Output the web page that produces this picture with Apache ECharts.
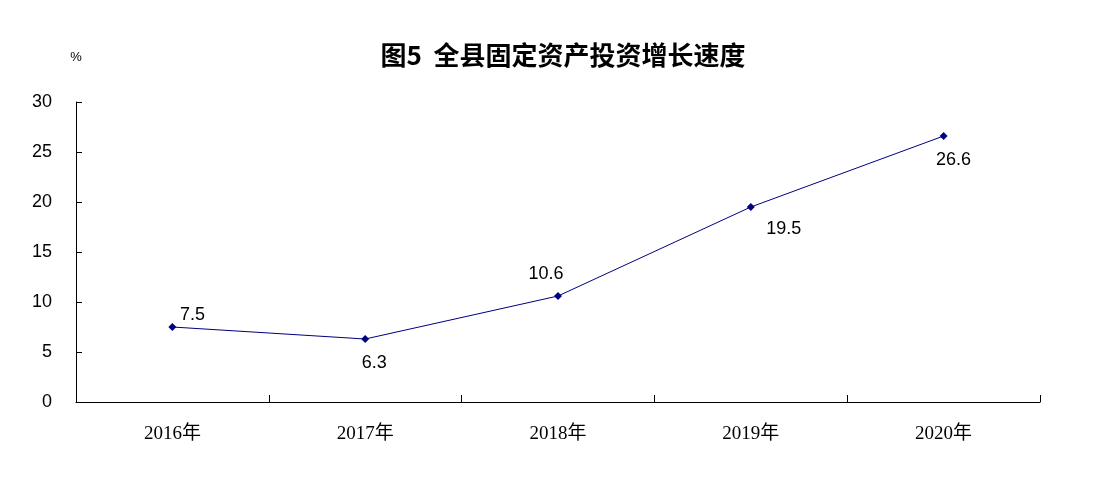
<!DOCTYPE html>
<html><head><meta charset="utf-8">
<script src="https://cdn.jsdelivr.net/npm/echarts@6/dist/echarts.min.js"></script>
<style>html,body{margin:0;padding:0;background:#fff}#c{width:1102px;height:491px}</style>
</head><body><div id="c"></div>
<script>
const categories = ['2016年','2017年','2018年','2019年','2020年'];
const growth = [7.5, 6.3, 10.6, 19.5, 26.6];
const yTicks = [0, 5, 10, 15, 20, 25, 30];

const labelStyles = [
  {position:'top', offset:[20,6]},
  {position:'bottom', offset:[9,6]},
  {position:'top', offset:[-12,-4]},
  {position:'bottom', offset:[33,4]},
  {position:'bottom', offset:[10,6]}
];

const chart = echarts.init(document.getElementById('c'));
chart.setOption({
  animation:false,
  backgroundColor:'#fff',
  title:{text:'图5  全县固定资产投资增长速度', left:558, textAlign:'center', top:37,
    textStyle:{fontFamily:'Noto Sans CJK SC', fontSize:26, fontWeight:'bold', color:'#000'}},
  grid:{left:76, right:62, top:102, bottom:89},
  xAxis:{type:'category', data:categories, boundaryGap:true,
    axisLine:{show:true, lineStyle:{color:'#000', width:1}},
    axisTick:{show:true, inside:true, length:7, alignWithLabel:false, interval:0, lineStyle:{color:'#000', width:1}},
    axisLabel:{margin:23, fontFamily:'Liberation Serif, Noto Sans CJK SC', fontSize:19, color:'#000'}},
  yAxis:{type:'value', min:0, max:30, interval:5, name:'%',
    nameLocation:'end', nameGap:38,
    nameTextStyle:{fontFamily:'Liberation Sans', fontSize:13, color:'#000'},
    axisLine:{show:true, lineStyle:{color:'#000', width:1}},
    axisTick:{show:true, inside:true, length:6, lineStyle:{color:'#000', width:1}},
    splitLine:{show:false},
    axisLabel:{margin:24, fontFamily:'Liberation Sans', fontSize:18, color:'#000',
      formatter:v=>yTicks.includes(v)?String(v):''}},
  series:[{type:'line', data:growth.map((v,i)=>({value:v, label:labelStyles[i]})),
    symbol:'diamond', symbolSize:8,
    itemStyle:{color:'#000080'},
    lineStyle:{color:'#000080', width:1},
    label:{show:true, fontFamily:'Liberation Sans', fontSize:18, color:'#000',
      formatter:p=>p.value.toFixed(1)}}]
});
</script></body></html>
